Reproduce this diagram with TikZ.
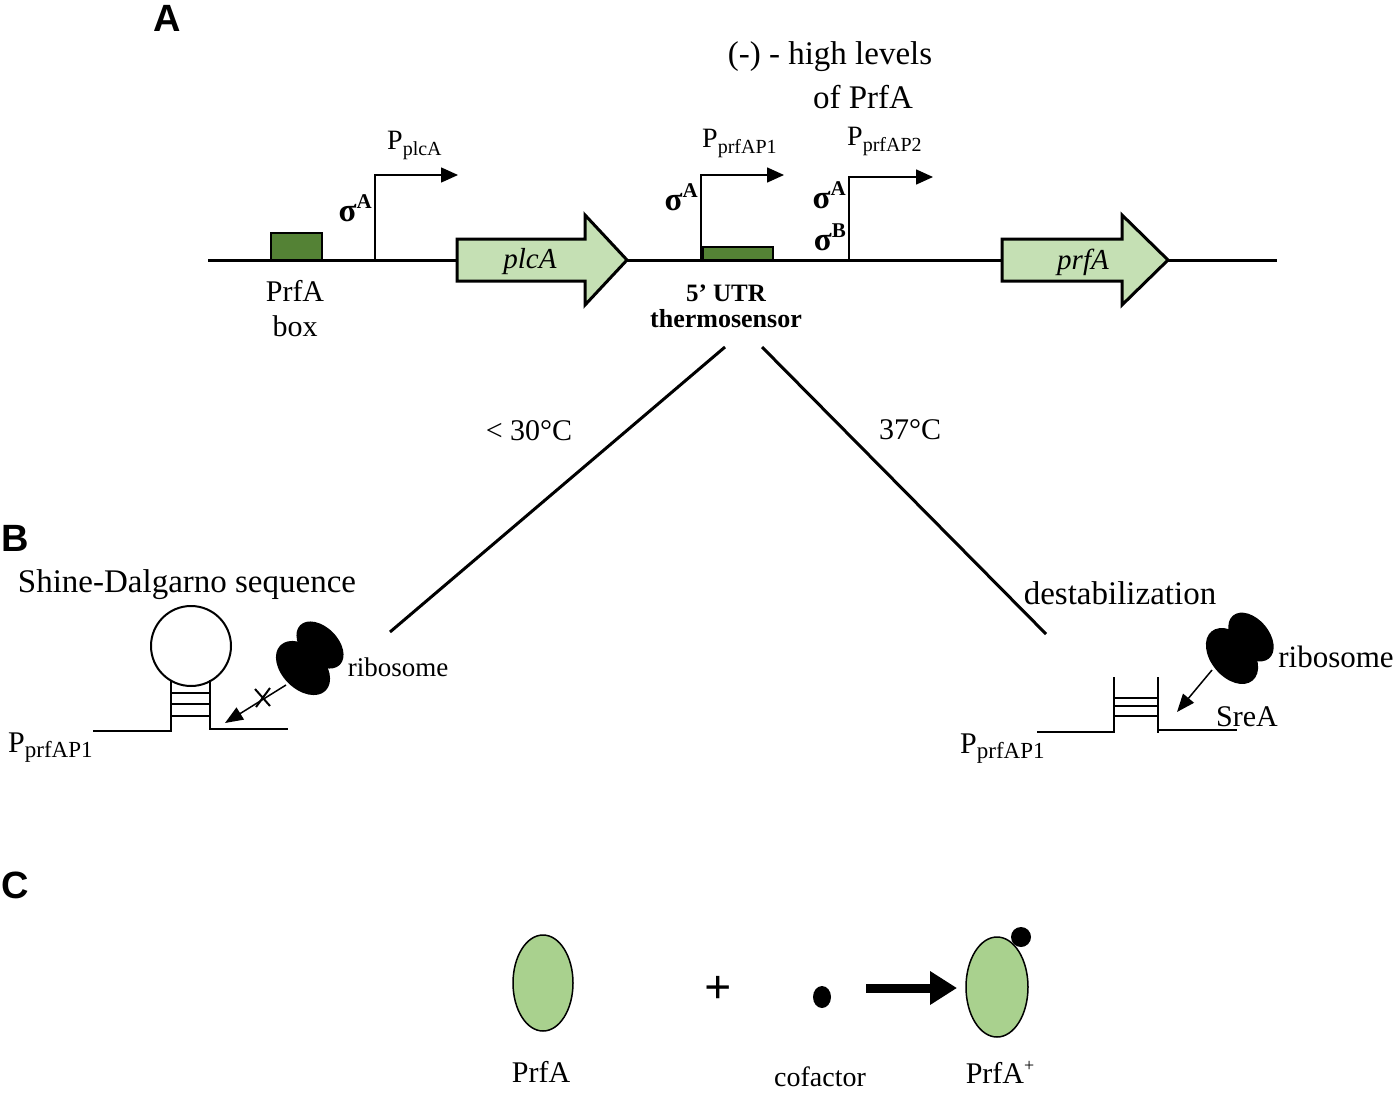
\documentclass[tikz,border=0pt]{standalone}
\usepackage{fontspec}
\setmainfont{Liberation Serif}
\newfontfamily\panelfont{Liberation Sans}
\usetikzlibrary{arrows.meta,positioning}
\definecolor{boxgreen}{HTML}{548235}
\definecolor{genegreen}{HTML}{C5E0B4}
\definecolor{protgreen}{HTML}{A9D18E}
\newcommand{\promlbl}[2][20]{P\raisebox{-0.18em}{\fontsize{#1}{#1}\selectfont #2}}
\newcommand{\suplbl}[2][20]{\raisebox{0.4em}{\fontsize{#1}{#1}\selectfont #2}}

\begin{document}
\begin{tikzpicture}[x=1pt,y=-1pt,
  txt/.style={font=\fontsize{30}{34}\selectfont, inner sep=0pt},
  bigtxt/.style={font=\fontsize{33}{36}\selectfont, inner sep=0pt},
  sigma/.style={font=\bfseries\fontsize{33}{34}\selectfont, inner sep=0pt, anchor=east},
  utr/.style={font=\bfseries\fontsize{25}{30}\selectfont, inner sep=0pt, align=center},
  genetxt/.style={font=\itshape\fontsize{29}{30}\selectfont, inner sep=0pt},
  panel/.style={font=\panelfont\bfseries\fontsize{38}{40}\selectfont, inner sep=0pt},
  dna/.style={line width=3pt},
  gene/.style={draw, line width=3pt, fill=genegreen, line join=miter},
  site/.style={draw, line width=1.5pt, fill=boxgreen},
  prom/.style={line width=1.5pt, -{Triangle[length=17pt,width=15pt]}},
  split/.style={line width=3pt},
  rna/.style={line width=2pt},
  bind/.style={line width=1.5pt, -{Triangle[length=18pt,width=14pt]}},
  prot/.style={draw, line width=1.5pt, fill=protgreen}
]
\useasboundingbox (0,0) rectangle (1399,1094);

\node[panel] (lblA) at (167,18) {A};
\node[panel] (lblB) at (15,538) {B};
\node[panel] (lblC) at (15,885) {C};

\coordinate (dnaL) at (208,260);
\coordinate (dnaR) at (1277,260);
\draw[dna] (dnaL) -- (dnaR);

\draw[site] (271,233) rectangle (322,260);
\node[txt, align=center, font=\fontsize{30}{35}\selectfont] (boxlbl) at (295,309) {PrfA\\box};

\coordinate (plcAbase) at (375,260);
\coordinate (plcAtip) at (458,175);
\draw[prom] (plcAbase) |- (plcAtip);
\node[txt, font=\fontsize{28}{30}\selectfont, anchor=base west] (PplcA) at (387,150) {\promlbl{plcA}};
\node[sigma] (sigA1) at (372,208) {σ\suplbl[21]{A}};

\draw[gene] (457,239) -- (585,239) -- (585,215) -- (627,260) -- (585,305) -- (585,281) -- (457,281) -- cycle;
\node[genetxt] (plcA) at (530,262) {plcA};

\draw[site] (703,247) rectangle (773,260);
\coordinate (p1base) at (701,260);
\coordinate (p1tip) at (784,175);
\draw[prom] (p1base) |- (p1tip);
\node[txt, font=\fontsize{28}{30}\selectfont, anchor=base west] (Pp1) at (702,148) {\promlbl{prfAP1}};
\node[sigma] (sigA2) at (698,197) {σ\suplbl[21]{A}};
\node[utr] (utrlbl) at (726,306) {5’ UTR\\[-4pt]\fontsize{26}{30}\selectfont thermosensor};

\node[bigtxt] (hilvl) at (830,57) {(-) - high levels};
\node[bigtxt] (ofprfa) at (863,97) {of PrfA};

\coordinate (p2base) at (849,260);
\coordinate (p2tip) at (933,177);
\draw[prom] (p2base) |- (p2tip);
\node[txt, font=\fontsize{28}{30}\selectfont, anchor=base west] (Pp2) at (847,146) {\promlbl{prfAP2}};
\node[sigma] (sigA3) at (846,195) {σ\suplbl[21]{A}};
\node[sigma] (sigB3) at (846,237) {σ\suplbl[21]{B}};

\draw[gene] (1002,239) -- (1122,239) -- (1122,215) -- (1168,260) -- (1122,305) -- (1122,281) -- (1002,281) -- cycle;
\node[genetxt] (prfA) at (1083,262) {prfA};

\coordinate (coldtop) at (725,347);
\coordinate (coldend) at (390,632);
\coordinate (warmtop) at (762,347);
\coordinate (warmend) at (1046,634);
\draw[split] (coldtop) -- (coldend);
\draw[split] (warmtop) -- (warmend);
\node[txt] (cold) at (529,431) {< 30°C};
\node[txt] (warm) at (910,430) {37°C};

\node[bigtxt] (sdlbl) at (187,585) {Shine-Dalgarno sequence};
\draw[rna] (191,646) circle (40pt);
\draw[rna] (93,731) -- (171,731) -- (171,680);
\draw[rna] (210,680) -- (210,729) -- (288,729);
\foreach \y in {693,704,716} \draw[rna] (171,\y) -- (210,\y);
\node[txt, anchor=base west] (PlL) at (8,752) {\promlbl[23]{prfAP1}};

\fill[rotate around={-45:(303,668)}] (303,668) ellipse [x radius=32pt, y radius=21pt];
\fill[rotate around={-45:(320,645)}] (320,645) ellipse [x radius=28pt, y radius=18pt];
\node[txt, font=\fontsize{27}{30}\selectfont] (riboL) at (398,667) {ribosome};
\coordinate (riboLout) at (286,685);
\coordinate (stemLin) at (225,723);
\draw[bind] (riboLout) -- (stemLin);
\draw[line width=2pt] (255,689) -- (270,706) (256,707) -- (270,688);

\node[bigtxt] (destab) at (1120,593) {destabilization};
\draw[rna] (1037,732) -- (1114,732) -- (1114,677);
\draw[rna] (1158,677) -- (1158,733) (1158,730) -- (1237,730);
\foreach \y in {698,706,716} \draw[rna] (1114,\y) -- (1158,\y);
\node[txt, anchor=base west] (PlR) at (960,753) {\promlbl[23]{prfAP1}};

\fill[rotate around={-50:(1232,656)}] (1232,656) ellipse [x radius=32pt, y radius=21pt];
\fill[rotate around={-50:(1251,637)}] (1251,637) ellipse [x radius=28pt, y radius=18pt];
\node[txt, font=\fontsize{31}{34}\selectfont] (riboR) at (1336,657) {ribosome};
\coordinate (riboRout) at (1212,670);
\coordinate (stemRin) at (1177,712);
\draw[bind] (riboRout) -- (stemRin);
\node[txt] (srea) at (1247,717) {SreA};

\draw[prot] (543,983) ellipse [x radius=30pt, y radius=48pt];
\node[txt] (prfalbl) at (541,1072) {PrfA};
\node[txt, font=\bfseries\fontsize{48}{50}\selectfont] (plus) at (718,990) {+};
\fill (822,997) ellipse [x radius=9pt, y radius=11pt];
\node[txt, font=\fontsize{28}{30}\selectfont] (cof) at (820,1077) {cofactor};
\coordinate (actfrom) at (866,988);
\coordinate (actto) at (957,988);
\draw[line width=9pt, -{Triangle[length=27pt,width=32pt]}] (actfrom) -- (actto);
\draw[prot] (997,987) ellipse [x radius=31pt, y radius=50pt];
\fill (1021,937) circle (10pt);
\node[txt] (prfaplus) at (1000,1072) {PrfA\suplbl[18]{+}};
\end{tikzpicture}
\end{document}
